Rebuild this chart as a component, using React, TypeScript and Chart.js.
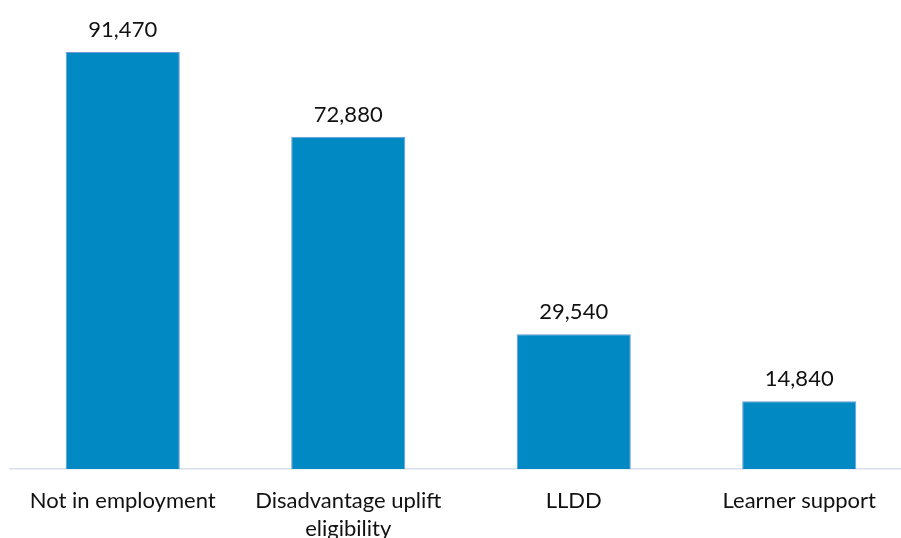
import React, { useEffect, useRef } from "react";
import { Chart, registerables } from "chart.js";

Chart.register(...registerables);

const categories: (string | string[])[] = [
  "Not in employment",
  ["Disadvantage uplift", "eligibility"],
  "LLDD",
  "Learner support",
];
const learners = [91470, 72880, 29540, 14840];

const FONT = "Lato, 'Open Sans', sans-serif";

const valueLabels = {
  id: "valueLabels",
  afterDatasetsDraw(chart: any) {
    const { ctx } = chart;
    const meta = chart.getDatasetMeta(0);
    ctx.save();
    ctx.font = `22px ${FONT}`;
    ctx.fillStyle = "#111";
    ctx.textAlign = "center";
    ctx.textBaseline = "middle";
    meta.data.forEach((bar: any, i: number) => {
      ctx.fillText(learners[i].toLocaleString("en-GB"), bar.x, bar.y - 22);
    });
    ctx.restore();
  },
};

export default function App() {
  const ref = useRef<HTMLCanvasElement>(null);
  useEffect(() => {
    if (!ref.current) return;
    const chart = new Chart(ref.current, {
      type: "bar",
      data: {
        labels: categories,
        datasets: [
          {
            data: learners,
            backgroundColor: "#0089C2",
            borderColor: "#6E9BD6",
            borderWidth: 1,
            categoryPercentage: 1,
            barPercentage: 0.506,
          },
        ],
      },
      options: {
        responsive: false,
        animation: false,
        layout: { padding: { top: 13, left: 10, right: 0, bottom: 0 } },
        plugins: { legend: { display: false }, tooltip: { enabled: false } },
        scales: {
          y: { display: false, min: 0, max: 100000 },
          x: {
            grid: { display: false, drawTicks: false },
            border: { display: true, color: "#D5DFEE", width: 1.5 },
            ticks: {
              color: "#111",
              font: { family: FONT, size: 22, lineHeight: 1.28 },
              padding: 18,
              maxRotation: 0,
              autoSkip: false,
            },
            afterFit(scale: any) {
              scale.height = 69;
            },
          },
        },
      },
      plugins: [valueLabels],
    });
    return () => chart.destroy();
  }, []);
  return (
    <div
      style={{
        position: "absolute",
        left: 0,
        top: 0,
        width: 901,
        height: 538,
        overflow: "hidden",
        background: "#fff",
      }}
    >
      <canvas ref={ref} width={912} height={538} style={{ display: "block" }} />
    </div>
  );
}
